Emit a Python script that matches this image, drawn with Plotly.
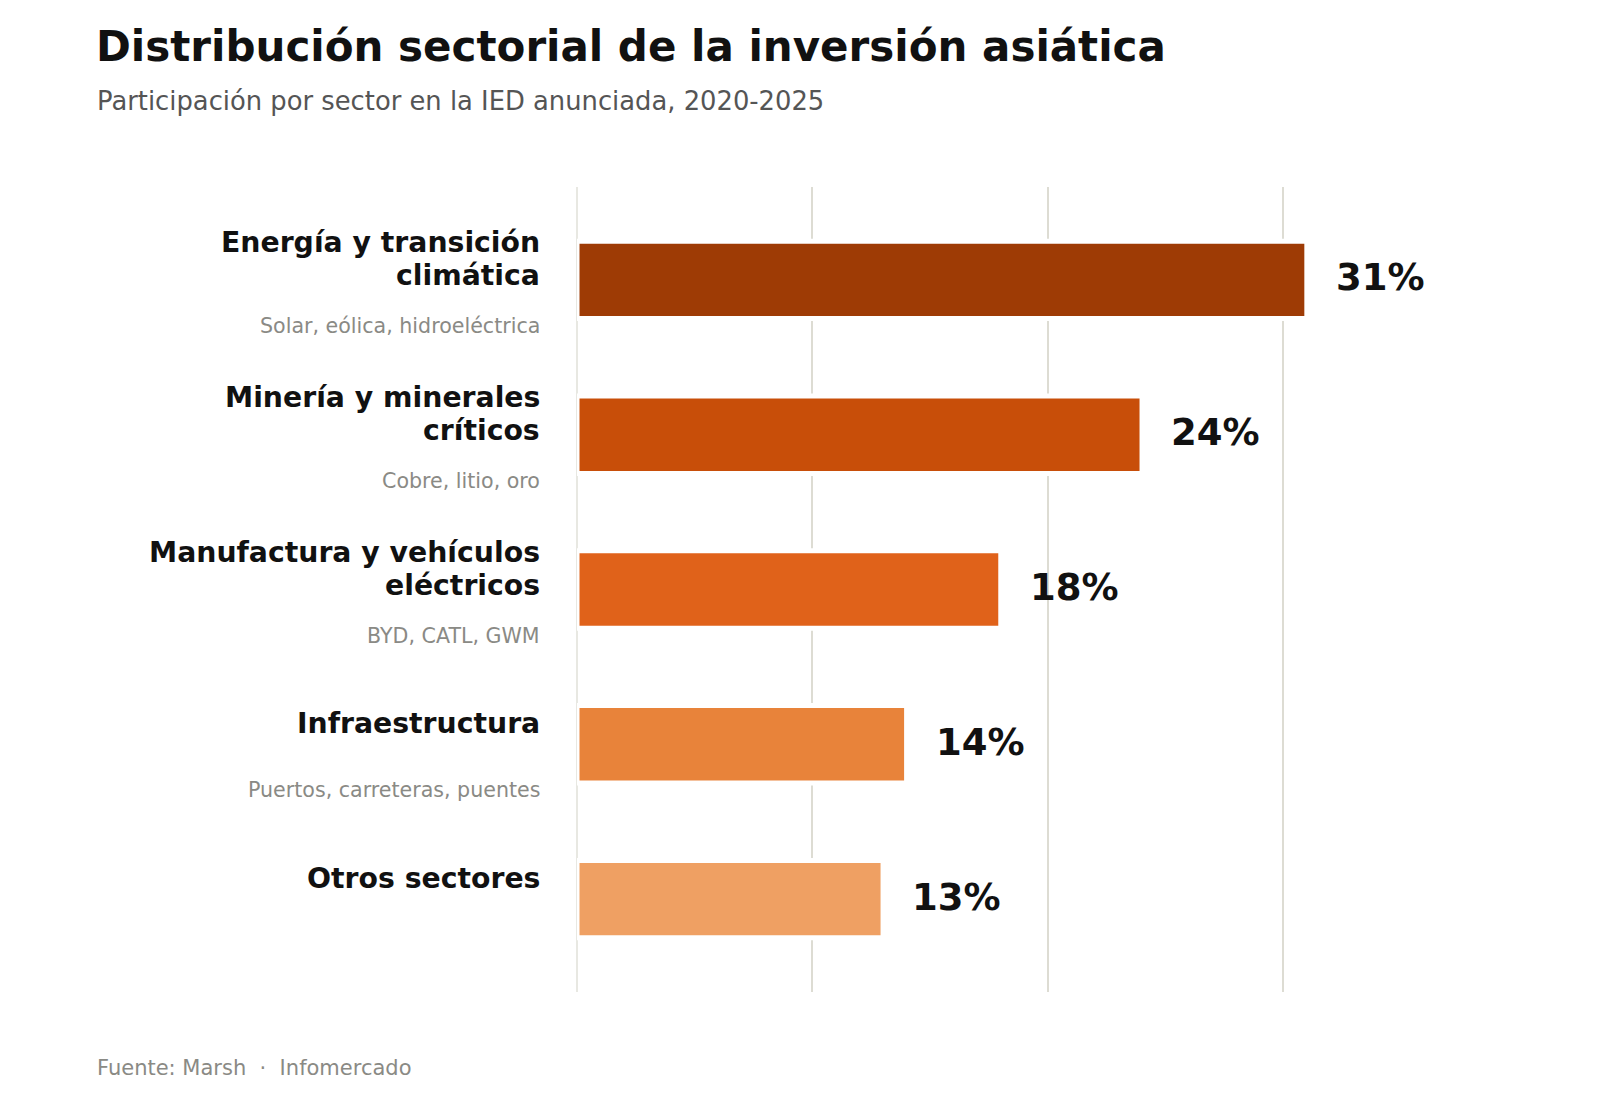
import plotly.graph_objects as go

# data
sectores = [
    "Energía y transición<br>climática",
    "Minería y minerales<br>críticos",
    "Manufactura y vehículos<br>eléctricos",
    "Infraestructura",
    "Otros sectores",
]
detalles = [
    "Solar, eólica, hidroeléctrica",
    "Cobre, litio, oro",
    "BYD, CATL, GWM",
    "Puertos, carreteras, puentes",
    "",
]
participacion = [31, 24, 18, 14, 13]
colores = ["#9e3b05", "#c84e09", "#e0621a", "#e8833a", "#efa063"]
ticks_x = [0, 10, 20, 30]

titulo = "Distribución sectorial de la inversión asiática"
subtitulo = "Participación por sector en la IED anunciada, 2020-2025"
fuente = "Fuente: Marsh\u00a0\u00a0·\u00a0\u00a0Infomercado"

FONT = "DejaVu Sans"
W, H = 1600, 1102
L, R, T, B = 577, 1401, 187, 992
LINE = 33  # spacing between label lines, px


def px_x(px):
    return (px - L) / (R - L)


def px_y(py):
    return (B - py) / (B - T)


fig = go.Figure()
fig.add_trace(go.Bar(
    x=participacion,
    y=sectores,
    orientation="h",
    width=0.5,
    marker=dict(color=colores, line=dict(color="white", width=5)),
    hoverinfo="skip",
))

annotations = []
for s, d, v in zip(sectores, detalles, participacion):
    lines = s.split("<br>")
    n = len(lines)
    for i, ln in enumerate(lines):
        annotations.append(dict(
            x=0, xref="paper", y=s, yref="y", text="<b>%s</b>" % ln,
            xanchor="right", yanchor="middle", align="right",
            xshift=-35, yshift=20.5 + (n - 1) / 2 * LINE - i * LINE,
            showarrow=False,
            font=dict(family=FONT, size=28.3, color="#111111"),
        ))
    if d:
        annotations.append(dict(
            x=0, xref="paper", y=s, yref="y", text=d,
            xanchor="right", yanchor="middle", align="right",
            xshift=-35, yshift=-46, showarrow=False,
            font=dict(family=FONT, size=20.6, color="#8a8a85"),
        ))
    annotations.append(dict(
        x=v, xref="x", y=s, yref="y", text="<b>%d%%</b>" % v,
        xanchor="left", yanchor="middle", xshift=27, yshift=2,
        showarrow=False,
        font=dict(family=FONT, size=37, color="#111111"),
    ))

annotations += [
    dict(x=px_x(94), xref="paper", y=px_y(47), yref="paper",
         text="<b>%s</b>" % titulo, xanchor="left", yanchor="middle",
         showarrow=False, font=dict(family=FONT, size=42, color="#111111")),
    dict(x=px_x(95), xref="paper", y=px_y(101), yref="paper",
         text=subtitulo, xanchor="left", yanchor="middle",
         showarrow=False, font=dict(family=FONT, size=25.8, color="#555555")),
    dict(x=px_x(95), xref="paper", y=px_y(1068), yref="paper",
         text=fuente, xanchor="left", yanchor="middle",
         showarrow=False, font=dict(family=FONT, size=21, color="#8a8a85")),
]

fig.update_layout(
    width=W, height=H,
    margin=dict(l=L, r=W - R, t=T, b=H - B),
    paper_bgcolor="white", plot_bgcolor="white",
    showlegend=False,
    annotations=annotations,
    font=dict(family=FONT),
)
fig.update_xaxes(
    range=[0, 35], tickvals=ticks_x, showticklabels=False,
    showgrid=True, gridcolor="#dddcd3", gridwidth=2,
    zeroline=True, zerolinecolor="#e8e8e2", zerolinewidth=1.5,
    showline=False, fixedrange=True,
)
fig.update_yaxes(
    range=[4.6, -0.6], showticklabels=False, showgrid=False,
    zeroline=False, showline=False, fixedrange=True,
)

fig.write_html(
    "out.html",
    config={"displayModeBar": False},
    post_script="document.body.style.margin='0';",
)
